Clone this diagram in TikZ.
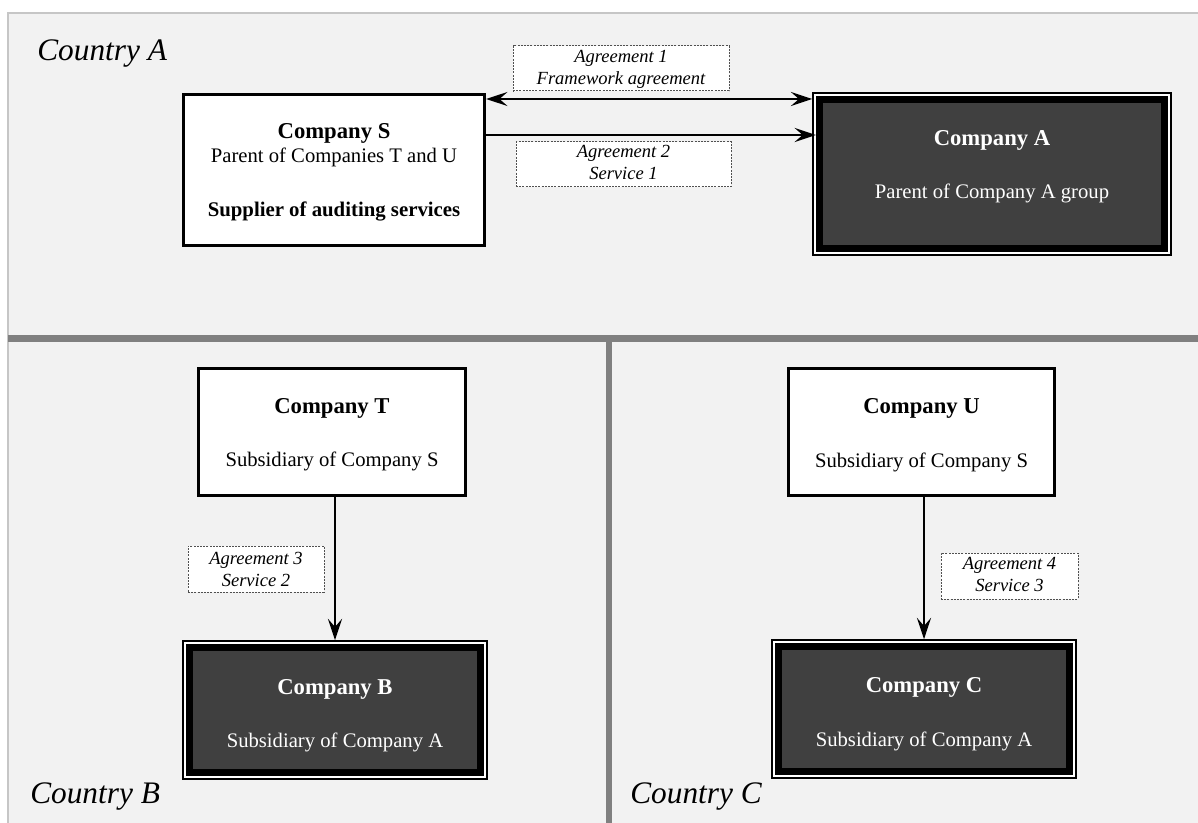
\documentclass[tikz,border=0pt]{standalone}
\usepackage{fontspec}
\setmainfont{Liberation Serif}
\usetikzlibrary{arrows.meta,fit}
\definecolor{bgc}{HTML}{F2F2F2}
\definecolor{darkc}{HTML}{404040}
\definecolor{divc}{HTML}{808080}
\definecolor{edgec}{HTML}{C6C6C6}
\definecolor{dotc}{HTML}{505050}
\begin{document}
\begin{tikzpicture}[x=0.75pt,y=-0.75pt,
  whitebox/.style={draw=black,line width=2.4pt,fill=white,inner sep=0pt},
  darkouter/.style={draw=black,line width=1.1pt,fill=white,inner sep=0pt},
  darkinner/.style={draw=black,line width=5.25pt,fill=darkc,inner sep=0pt},
  labelbox/.style={draw=dotc,line width=0.75pt,dash pattern=on 1.5pt off 0.9pt,fill=white,inner sep=0pt},
  title/.style={font=\fontsize{17}{20}\selectfont\bfseries,anchor=base,inner sep=0pt},
  body/.style={font=\fontsize{15.5}{18}\selectfont,anchor=base,inner sep=0pt},
  agr/.style={font=\fontsize{13.9}{16}\selectfont\itshape,anchor=base,inner sep=0pt},
  country/.style={font=\fontsize{23.5}{28}\selectfont\itshape,anchor=base west,inner sep=0pt},
  tip/.tip={Stealth[length=16pt,width=10.5pt,inset=6pt]},
  arr/.style={line width=2pt,-tip},
  darr/.style={line width=2pt,tip-tip},
]
% background
\useasboundingbox (0,0) rectangle (1198,823);
\fill[white] (0,0) rectangle (1198,823);
\fill[bgc] (8,13) rectangle (1198,823);
\draw[edgec,line width=1.5pt] (8,823) -- (8,13) -- (1198,13);
\draw[divc,line width=5.25pt] (8,338.5) -- (1198,338.5);
\draw[divc,line width=4.5pt] (608.5,338.5) -- (608.5,823);

% country labels
\node[country] (cA) at (37,61) {Country A};
\node[country] (cB) at (30,803) {Country B};
\node[country] (cC) at (630,803) {Country C};

% Company S
\node[whitebox,fit={(183.5,94.5)(484.5,245.5)}] (S) {};
\node[title] (S1) at (334,139) {Company S};
\node[body] (S2) at (334,163) {Parent of Companies T and U};
\node[title,font=\fontsize{15.6}{18}\selectfont\bfseries] (S3) at (334,217) {Supplier of auditing services};

% Company A
\node[darkouter,fit={(813,93)(1171,255)}] (A) {};
\node[darkinner,fit={(819.5,99.5)(1164.5,248.5)}] (Ai) {};
\node[title,text=white] (A1) at (992,146) {Company A};
\node[body,text=white] (A2) at (992,199) {Parent of Company A group};

% Company T
\node[whitebox,fit={(198.5,368.5)(465.5,495.5)}] (T) {};
\node[title] (T1) at (332,413) {Company T};
\node[body] (T2) at (332,466) {Subsidiary of Company S};

% Company U
\node[whitebox,fit={(788.5,368.5)(1054.5,495.5)}] (U) {};
\node[title] (U1) at (921.5,413) {Company U};
\node[body] (U2) at (921.5,467) {Subsidiary of Company S};

% Company B
\node[darkouter,fit={(183,641)(487,779)}] (B) {};
\node[darkinner,fit={(189.5,647.5)(480.5,772.5)}] (Bi) {};
\node[title,text=white] (B1) at (335,694) {Company B};
\node[body,text=white] (B2) at (335,747) {Subsidiary of Company A};

% Company C
\node[darkouter,fit={(772,640)(1076,778)}] (C) {};
\node[darkinner,fit={(778.5,646.5)(1069.5,771.5)}] (Ci) {};
\node[title,text=white] (C1) at (924,692) {Company C};
\node[body,text=white] (C2) at (924,746) {Subsidiary of Company A};

% agreement labels
\node[labelbox,fit={(513,46)(729,91)}] (L1) {};
\node[agr] (L1a) at (621,63) {Agreement 1};
\node[agr] (L1b) at (621,85) {Framework agreement};
\node[labelbox,fit={(516,142)(731,187)}] (L2) {};
\node[agr] (L2a) at (623.5,158) {Agreement 2};
\node[agr] (L2b) at (623.5,180) {Service 1};
\node[labelbox,fit={(188,546)(324,592)}] (L3) {};
\node[agr] (L3a) at (256,564) {Agreement 3};
\node[agr] (L3b) at (256,586) {Service 2};
\node[labelbox,fit={(941,553)(1078,599)}] (L4) {};
\node[agr] (L4a) at (1009.5,569) {Agreement 4};
\node[agr] (L4b) at (1009.5,591) {Service 3};

% connectors
\coordinate (y1) at (0,99);
\coordinate (y2) at (0,135);
\draw[darr] (S.east |- y1) -- (A.west |- y1);
\draw[arr] (S.east |- y2) -- (Ai.west |- y2);
\draw[arr] (B.north |- T.south) -- (B.north);
\draw[arr] (C.north |- U.south) -- (C.north);
\end{tikzpicture}
\end{document}
